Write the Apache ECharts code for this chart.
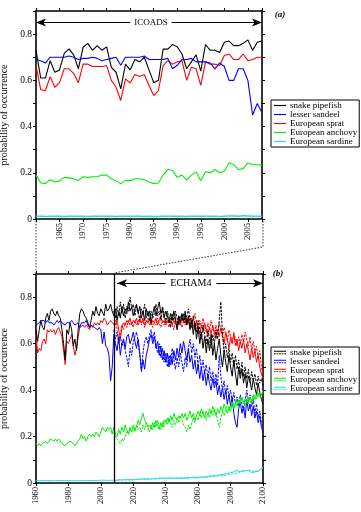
<!DOCTYPE html>
<html><head><meta charset="utf-8">
<script src="https://cdn.jsdelivr.net/npm/echarts@6/dist/echarts.min.js"></script>
<style>html,body{margin:0;padding:0;background:#fff}#c{width:361px;height:512px}</style>
</head><body><div id="c"></div>
<script>
// ---------- DATA ----------
const speciesNames = ['snake pipefish','lesser sandeel','European sprat','European anchovy','European sardine'];
const obsStart = 1960;           // ICOADS panel, annual 1960-2008
const histStart = 1960;          // lower panel, before scenario, annual 1960-2007
const runStart = 2008;           // ECHAM4 scenario, annual 2008-2100
const topXTicks = [1965,1970,1975,1980,1985,1990,1995,2000,2005];
const bottomXTicks = [1960,1980,2000,2020,2040,2060,2080,2100];
const yTickLabels = ['0','0.2','0.4','0.6','0.8'];

const obsPipefish = [0.73,0.61,0.61,0.685,0.635, 0.645,0.717,0.736,0.71,0.65, 0.743,0.76,0.73,0.75,0.73, 0.745,0.656,0.635,0.563,0.67, 0.645,0.69,0.68,0.70,0.645, 0.59,0.60,0.735,0.735,0.755, 0.745,0.714,0.65,0.68,0.71, 0.64,0.755,0.73,0.73,0.72, 0.765,0.77,0.75,0.75,0.76, 0.775,0.73,0.765,0.77];
const obsSandeel = [0.69,0.685,0.675,0.70,0.70, 0.70,0.70,0.705,0.70,0.69, 0.695,0.695,0.70,0.695,0.685, 0.69,0.695,0.70,0.665,0.70, 0.70,0.70,0.70,0.705,0.69, 0.69,0.69,0.69,0.695,0.65, 0.665,0.69,0.69,0.695,0.68, 0.68,0.68,0.675,0.65,0.675, 0.66,0.60,0.60,0.65,0.65, 0.60,0.45,0.50,0.46];
const obsSprat = [0.664,0.56,0.555,0.616,0.57, 0.59,0.65,0.65,0.63,0.59, 0.67,0.67,0.66,0.66,0.66, 0.664,0.60,0.57,0.513,0.606, 0.588,0.625,0.617,0.625,0.578, 0.534,0.556,0.664,0.685,0.67, 0.68,0.685,0.60,0.657,0.65, 0.578,0.68,0.67,0.67,0.664, 0.707,0.714,0.69,0.69,0.714, 0.685,0.69,0.70,0.70];
const obsAnchovy = [0.19,0.157,0.153,0.17,0.16, 0.165,0.18,0.178,0.174,0.167, 0.183,0.18,0.183,0.183,0.19, 0.19,0.174,0.165,0.153,0.167, 0.165,0.174,0.174,0.17,0.16, 0.153,0.156,0.19,0.215,0.21, 0.18,0.19,0.168,0.19,0.204, 0.165,0.204,0.20,0.214,0.20, 0.207,0.243,0.235,0.214,0.218, 0.243,0.235,0.235,0.232];
const obsSardine = [0.012,0.012,0.011,0.012,0.012, 0.012,0.011,0.012,0.012,0.012, 0.012,0.011,0.012,0.012,0.012, 0.012,0.012,0.011,0.012,0.012, 0.012,0.012,0.012,0.011,0.012, 0.011,0.011,0.012,0.012,0.012, 0.012,0.012,0.011,0.012,0.012, 0.012,0.012,0.012,0.012,0.011, 0.012,0.013,0.013,0.012,0.014, 0.013,0.012,0.012,0.012];

const histPipefish = [0.66,0.61,0.66,0.70,0.67, 0.66,0.71,0.73,0.70,0.74, 0.75,0.73,0.72,0.74,0.72, 0.71,0.66,0.60,0.53,0.66, 0.64,0.69,0.66,0.59,0.62, 0.57,0.66,0.73,0.75,0.74, 0.72,0.71,0.69,0.67,0.70, 0.74,0.72,0.76,0.73,0.72, 0.75,0.75,0.72,0.77,0.74, 0.75,0.77,0.74];
const histSandeel = [0.68,0.68,0.69,0.70,0.70, 0.70,0.69,0.70,0.69,0.69, 0.69,0.68,0.69,0.70,0.69, 0.70,0.69,0.69,0.68,0.69, 0.69,0.69,0.70,0.69,0.68, 0.68,0.69,0.67,0.69,0.69, 0.69,0.70,0.68,0.67,0.68, 0.68,0.67,0.67,0.66,0.67, 0.66,0.60,0.65,0.59,0.58, 0.55,0.44,0.50];
const histSprat = [0.64,0.56,0.58,0.57,0.61, 0.62,0.60,0.66,0.65,0.66, 0.65,0.66,0.64,0.66,0.67, 0.65,0.63,0.57,0.51,0.61, 0.60,0.62,0.64,0.59,0.55, 0.58,0.63,0.67,0.67,0.68, 0.67,0.68,0.67,0.66,0.68, 0.67,0.69,0.68,0.69,0.68, 0.70,0.69,0.71,0.70,0.68, 0.69,0.70,0.69];
const histAnchovy = [0.17,0.16,0.17,0.16,0.17, 0.17,0.18,0.17,0.18,0.19, 0.19,0.18,0.19,0.18,0.19, 0.19,0.17,0.17,0.16,0.17, 0.17,0.18,0.18,0.17,0.16, 0.16,0.18,0.19,0.21,0.19, 0.20,0.18,0.20,0.21,0.20, 0.21,0.20,0.22,0.21,0.20, 0.22,0.24,0.23,0.22,0.24, 0.23,0.24,0.21];
const histSardine = [0.010,0.010,0.011,0.010,0.010, 0.011,0.010,0.010,0.010,0.011, 0.010,0.010,0.011,0.010,0.010, 0.010,0.011,0.010,0.010,0.010, 0.011,0.010,0.010,0.011,0.010, 0.010,0.010,0.011,0.010,0.011, 0.011,0.010,0.011,0.011,0.010, 0.011,0.011,0.012,0.011,0.011, 0.012,0.011,0.012,0.012,0.011, 0.012,0.012,0.012];

const runAPipefish = [0.72,0.75,0.70,0.74,0.71,0.76,0.72,0.75,0.73,0.78,0.74,0.76,0.72,
 0.75,0.77,0.73,0.76,0.71,0.74,0.70,0.75,0.72,0.74,
 0.69,0.73,0.76,0.72,0.75,0.78,0.73,0.75,0.71,0.74,
 0.72,0.69,0.73,0.70,0.74,0.71,0.66,0.72,0.69,0.73,
 0.70,0.74,0.68,0.72,0.66,0.70,0.64,0.69,0.62,0.67,
 0.60,0.65,0.58,0.63,0.56,0.62,0.57,0.64,0.55,0.60,
 0.53,0.58,0.62,0.55,0.50,0.57,0.52,0.48,0.55,0.50,
 0.46,0.53,0.47,0.42,0.50,0.45,0.49,0.43,0.47,0.41,
 0.46,0.44,0.40,0.45,0.41,0.38,0.43,0.39,0.36,0.34];
const runBPipefish = [0.74,0.71,0.76,0.72,0.78,0.73,0.77,0.71,0.76,0.74,0.80,0.75,0.77,
 0.72,0.76,0.74,0.70,0.75,0.73,0.77,0.71,0.74,0.70,
 0.74,0.71,0.73,0.77,0.72,0.74,0.70,0.76,0.73,0.69,
 0.74,0.71,0.67,0.73,0.70,0.74,0.71,0.68,0.72,0.70,
 0.73,0.69,0.72,0.75,0.70,0.67,0.72,0.68,0.65,0.70,
 0.66,0.62,0.68,0.64,0.60,0.66,0.62,0.58,0.64,0.60,
 0.66,0.62,0.70,0.78,0.64,0.56,0.60,0.54,0.58,0.52,
 0.56,0.50,0.55,0.49,0.53,0.47,0.52,0.46,0.50,0.45,
 0.49,0.43,0.48,0.44,0.47,0.42,0.46,0.43,0.45,0.42];
const runASprat = [0.69,0.68,0.70,0.66,0.62,0.67,0.69,0.68,0.70,0.69,0.71,0.68,0.70,
 0.69,0.71,0.68,0.70,0.69,0.71,0.68,0.70,0.69,0.71,
 0.68,0.70,0.69,0.71,0.68,0.70,0.72,0.69,0.70,0.68,
 0.70,0.69,0.71,0.68,0.70,0.69,0.67,0.70,0.68,0.71,
 0.69,0.72,0.68,0.70,0.67,0.71,0.68,0.66,0.70,0.67,
 0.64,0.68,0.65,0.69,0.66,0.63,0.67,0.64,0.68,0.65,
 0.62,0.66,0.63,0.67,0.64,0.60,0.65,0.62,0.58,0.63,
 0.60,0.64,0.59,0.62,0.57,0.61,0.58,0.62,0.56,0.60,
 0.57,0.53,0.58,0.54,0.57,0.52,0.55,0.50,0.47,0.45];
const runBSprat = [0.68,0.70,0.66,0.60,0.64,0.68,0.66,0.69,0.67,0.70,0.68,0.69,0.67,
 0.70,0.68,0.69,0.72,0.68,0.70,0.67,0.69,0.71,0.68,
 0.70,0.67,0.69,0.68,0.71,0.69,0.67,0.70,0.68,0.71,
 0.69,0.67,0.70,0.68,0.66,0.70,0.68,0.71,0.69,0.67,
 0.70,0.68,0.71,0.69,0.72,0.68,0.70,0.73,0.69,0.66,
 0.70,0.67,0.71,0.68,0.65,0.69,0.66,0.70,0.67,0.64,
 0.68,0.65,0.69,0.66,0.63,0.67,0.64,0.61,0.66,0.63,
 0.60,0.65,0.62,0.59,0.63,0.60,0.64,0.61,0.65,0.62,
 0.59,0.63,0.57,0.61,0.56,0.59,0.54,0.57,0.50,0.47];
const runASandeel = [0.64,0.60,0.57,0.63,0.55,0.60,0.62,0.58,0.63,0.64,0.60,0.62,0.65,
 0.61,0.58,0.62,0.56,0.48,0.53,0.49,0.55,0.58,0.62,
 0.64,0.60,0.63,0.58,0.61,0.55,0.59,0.53,0.57,0.52,
 0.56,0.50,0.55,0.51,0.57,0.53,0.58,0.54,0.60,0.56,
 0.61,0.57,0.53,0.58,0.52,0.55,0.49,0.53,0.47,0.51,
 0.45,0.50,0.44,0.48,0.42,0.47,0.43,0.40,0.45,0.41,
 0.44,0.38,0.42,0.37,0.41,0.36,0.40,0.34,0.38,0.33,
 0.37,0.30,0.26,0.24,0.32,0.35,0.30,0.33,0.28,0.36,
 0.31,0.34,0.29,0.33,0.28,0.31,0.26,0.29,0.24,0.22];
const runBSandeel = [0.66,0.62,0.65,0.61,0.63,0.59,0.61,0.57,0.54,0.50,0.58,0.55,0.61,
 0.63,0.65,0.61,0.55,0.49,0.56,0.61,0.63,0.60,0.64,
 0.66,0.62,0.65,0.59,0.56,0.60,0.54,0.58,0.52,0.56,
 0.50,0.55,0.51,0.58,0.53,0.49,0.54,0.50,0.56,0.52,
 0.48,0.54,0.50,0.58,0.62,0.56,0.60,0.54,0.58,0.50,
 0.55,0.49,0.53,0.47,0.51,0.45,0.50,0.44,0.48,0.43,
 0.47,0.42,0.55,0.46,0.40,0.44,0.38,0.42,0.37,0.40,
 0.35,0.39,0.34,0.37,0.33,0.38,0.34,0.31,0.36,0.40,
 0.35,0.38,0.33,0.36,0.30,0.34,0.28,0.31,0.26,0.24];
const runAAnchovy = [0.24,0.21,0.20,0.23,0.21,0.24,0.22,0.25,0.23,0.21,0.24,0.22,0.25,
 0.23,0.24,0.27,0.25,0.28,0.30,0.27,0.26,0.24,0.25,
 0.23,0.26,0.24,0.27,0.25,0.23,0.26,0.24,0.27,0.26,
 0.28,0.26,0.29,0.27,0.30,0.28,0.27,0.29,0.28,0.30,
 0.28,0.30,0.27,0.29,0.31,0.28,0.30,0.27,0.29,0.31,
 0.29,0.32,0.30,0.28,0.31,0.29,0.32,0.30,0.33,0.31,
 0.29,0.32,0.30,0.33,0.31,0.34,0.32,0.30,0.33,0.31,
 0.34,0.32,0.35,0.33,0.36,0.34,0.37,0.35,0.33,0.36,
 0.34,0.37,0.35,0.38,0.36,0.38,0.37,0.39,0.38,0.40];
const runBAnchovy = [0.22,0.20,0.19,0.18,0.17,0.19,0.18,0.20,0.22,0.21,0.23,0.22,0.24,
 0.22,0.25,0.23,0.24,0.22,0.25,0.23,0.26,0.24,0.22,
 0.25,0.23,0.26,0.24,0.27,0.25,0.23,0.26,0.24,0.27,
 0.25,0.28,0.26,0.24,0.27,0.25,0.28,0.26,0.29,0.27,
 0.25,0.24,0.22,0.25,0.23,0.26,0.28,0.26,0.29,0.27,
 0.30,0.28,0.31,0.29,0.27,0.30,0.28,0.31,0.29,0.32,
 0.30,0.27,0.24,0.28,0.31,0.29,0.32,0.34,0.31,0.33,
 0.35,0.32,0.34,0.36,0.33,0.35,0.37,0.34,0.36,0.38,
 0.35,0.37,0.34,0.36,0.38,0.36,0.39,0.37,0.38,0.39];
const runASardine = [0.012,0.013,0.012,0.014,0.013,0.012,0.014,0.013,0.015,0.014,0.013,0.015,0.014,
 0.016,0.015,0.017,0.016,0.018,0.017,0.019,0.016,0.018,0.017,
 0.019,0.018,0.020,0.017,0.019,0.021,0.018,0.020,0.019,0.021,
 0.020,0.022,0.019,0.021,0.020,0.022,0.021,0.019,0.022,0.020,
 0.022,0.021,0.023,0.020,0.022,0.024,0.021,0.023,0.025,0.022,
 0.024,0.026,0.023,0.027,0.025,0.029,0.026,0.030,0.027,0.032,
 0.029,0.033,0.030,0.036,0.032,0.038,0.034,0.041,0.036,0.045,
 0.040,0.048,0.043,0.056,0.046,0.042,0.050,0.044,0.052,0.047,
 0.054,0.049,0.045,0.053,0.048,0.056,0.050,0.058,0.062,0.070];
const runBSardine = [0.011,0.012,0.013,0.012,0.014,0.013,0.012,0.014,0.013,0.015,0.014,0.016,0.015,
 0.014,0.016,0.015,0.017,0.016,0.018,0.017,0.019,0.018,0.016,
 0.018,0.020,0.019,0.021,0.018,0.020,0.019,0.022,0.020,0.018,
 0.021,0.019,0.022,0.020,0.023,0.021,0.020,0.023,0.021,0.022,
 0.020,0.023,0.021,0.024,0.022,0.025,0.023,0.021,0.024,0.026,
 0.023,0.025,0.028,0.024,0.027,0.025,0.029,0.027,0.031,0.028,
 0.032,0.030,0.034,0.031,0.036,0.033,0.039,0.035,0.042,0.038,
 0.044,0.040,0.047,0.043,0.050,0.054,0.046,0.051,0.045,0.055,
 0.050,0.056,0.051,0.047,0.055,0.052,0.059,0.054,0.063,0.066];

// ---------- STYLE ----------
const colors = ['#000000','#0000ff','#ff0000','#00ee00','#1fdde6'];
const serif = 'Liberation Serif, Times New Roman, serif';

function pairs(start, arr){ return arr.map((v,i)=>[start+i, v]); }

const obsSets = [obsPipefish, obsSandeel, obsSprat, obsAnchovy, obsSardine];
const histSets = [histPipefish, histSandeel, histSprat, histAnchovy, histSardine];
const runASets = [runAPipefish, runASandeel, runASprat, runAAnchovy, runASardine];
const runBSets = [runBPipefish, runBSandeel, runBSprat, runBAnchovy, runBSardine];

const drawOrder = [2,0,1,3,4];
const series = [];
drawOrder.forEach(k=>{
  series.push({type:'line', name:speciesNames[k], xAxisIndex:0, yAxisIndex:0, showSymbol:false, symbol:'none',
    data:pairs(obsStart, obsSets[k]), lineStyle:{color:colors[k], width:k===4?1.6:1.1}, itemStyle:{color:colors[k]}});
});
drawOrder.forEach(k=>{
  series.push({type:'line', name:speciesNames[k], xAxisIndex:2, yAxisIndex:2, showSymbol:false, symbol:'none',
    data:pairs(runStart, runBSets[k]), lineStyle:{color:colors[k], width:1, type:[2.5,1.2]}, itemStyle:{color:colors[k]}});
  series.push({type:'line', name:speciesNames[k], xAxisIndex:2, yAxisIndex:2, showSymbol:false, symbol:'none',
    data:pairs(histStart, histSets[k]).concat(pairs(runStart, runASets[k])), lineStyle:{color:colors[k], width:1}, itemStyle:{color:colors[k]}});
});
// annotation series (arrows, split line)
series.push({type:'line', xAxisIndex:0, yAxisIndex:0, data:[], silent:true,
  markLine:{silent:true, symbol:['arrow','arrow'], symbolSize:[6,10], label:{show:false},
    lineStyle:{color:'#000', width:1.2, type:'solid'},
    data:[[{coord:[1960,0.85]},{coord:[2008,0.85]}]]}});
series.push({type:'line', xAxisIndex:2, yAxisIndex:2, data:[], silent:true,
  markLine:{silent:true, symbol:['arrow','arrow'], symbolSize:[6,10], label:{show:false},
    lineStyle:{color:'#000', width:1.2, type:'solid'},
    data:[[{coord:[2010,0.86]},{coord:[2100,0.86]}]]}});
series.push({type:'line', xAxisIndex:2, yAxisIndex:2, data:[], silent:true,
  markLine:{silent:true, symbol:['none','none'], label:{show:false},
    lineStyle:{color:'#000', width:1.3, type:'solid'},
    data:[{xAxis:2008}]}});

const yLabelFmt = v => { const t=Math.round(v*10); if (t%2) return ''; return yTickLabels[t/2] || ''; };
function yAx(grid, left){
  return {type:'value', gridIndex:grid, min:0, max:0.9, interval:0.1, position:left?'left':'right',
    axisLine:{show:true, onZero:false, lineStyle:{color:'#000', width:1.6}},
    axisTick:{show:true, length:3, lineStyle:{color:'#000', width:1}},
    axisLabel:{show:left, formatter:yLabelFmt, margin:4, color:'#000', fontFamily:serif, fontSize:9.5},
    splitLine:{show:false},
    name:left?'probability of occurrence':'', nameLocation:'middle', nameGap:21, nameRotate:90,
    nameTextStyle:{fontFamily:serif, fontSize:10, color:'#000'}};
}
function xAx(grid, bottom, mn, mx, step, ticks){
  return {type:'value', gridIndex:grid, min:mn, max:mx, interval:step, position:bottom?'bottom':'top',
    axisLine:{show:true, onZero:false, lineStyle:{color:'#000', width:1.6}},
    axisTick:{show:true, length:3, lineStyle:{color:'#000', width:1}},
    axisLabel:{show:bottom, rotate:90, margin:4, color:'#000', fontFamily:serif, fontSize:8.5,
      showMinLabel:true, showMaxLabel:true,
      formatter: v => ticks.indexOf(v)>=0 ? String(v) : ''},
    splitLine:{show:false}};
}

const singleIcon = 'path://M0,0H14V1.3H0Z';
const doubleIcon = 'path://M0,0H14V1.2H0Z M0,3H2V4.2H0Z M3,3H5V4.2H3Z M6,3H8V4.2H6Z M9,3H11V4.2H9Z M12,3H14V4.2H12Z';
function legend(top, icon){
  return {orient:'vertical', left:271, top:top, selectedMode:false, itemWidth:12, itemHeight:8, itemGap:0,
    padding:[1,2,1,3], borderColor:'#000', borderWidth:1, backgroundColor:'#fff', symbolKeepAspect:true,
    itemStyle:{borderWidth:0},
    textStyle:{fontFamily:serif, fontSize:9, color:'#000', lineHeight:9, padding:[0,0,0,-1]},
    data:speciesNames.map(n=>({name:n, icon:icon}))};
}

const chart = echarts.init(document.getElementById('c'), null, {renderer:'canvas'});
chart.setOption({
  animation:false,
  backgroundColor:'#fff',
  grid:[{left:36, top:11, width:226, height:208, outerBoundsMode:'none'},
        {left:36, top:274, width:227, height:209, outerBoundsMode:'none'}],
  xAxis:[xAx(0,true,1960,2008,5,topXTicks), xAx(0,false,1960,2008,5,topXTicks),
         xAx(1,true,1960,2100,20,bottomXTicks), xAx(1,false,1960,2100,20,bottomXTicks)],
  yAxis:[yAx(0,true), yAx(0,false), yAx(1,true), yAx(1,false)],
  legend:[legend(100, singleIcon), legend(347, doubleIcon)],
  series:series
});

// annotations positioned through the axes
const pTopL = chart.convertToPixel({seriesIndex:0}, [1960, 0]);
const pTopR = chart.convertToPixel({seriesIndex:0}, [2008, 0]);
const pIco = chart.convertToPixel({seriesIndex:0}, [1984.4, 0.85]);
const pBotL = chart.convertToPixel({seriesIndex:5}, [1960, 0.9]);
const pBotS = chart.convertToPixel({seriesIndex:5}, [2008, 0.9]);
const pEch = chart.convertToPixel({seriesIndex:5}, [2055.5, 0.86]);
const pTopA = chart.convertToPixel({seriesIndex:0}, [2008, 0.9]);
const pBotA = chart.convertToPixel({seriesIndex:5}, [2100, 0.9]);
const dotted = {stroke:'#000', lineWidth:0.8, lineDash:[1.5,1.5], fill:null};
chart.setOption({graphic:[
  {type:'polyline', silent:true, shape:{points:[[pTopL[0],pTopL[1]+2],[pBotL[0],pBotL[1]-1]]}, style:dotted},
  {type:'polyline', silent:true, shape:{points:[[pTopR[0]+1,pTopR[1]+2],[pTopR[0]+1,pTopR[1]+28],[pBotS[0],pBotS[1]-1]]}, style:dotted},
  {type:'text', silent:true, x:pIco[0], y:pIco[1], z:100, style:{text:'ICOADS', fill:'#000', font:'9px '+serif, align:'center', verticalAlign:'middle', backgroundColor:'#fff', padding:[1,4]}},
  {type:'text', silent:true, x:pEch[0], y:pEch[1], z:100, style:{text:'ECHAM4', fill:'#000', font:'10px '+serif, align:'center', verticalAlign:'middle', backgroundColor:'#fff', padding:[1,5]}},
  {type:'text', silent:true, x:pTopA[0]+18, y:pTopA[1]+4, style:{text:'(a)', fill:'#000', font:'italic bold 9px '+serif, align:'center', verticalAlign:'middle'}},
  {type:'text', silent:true, x:pBotA[0]+15, y:pBotA[1], style:{text:'(b)', fill:'#000', font:'italic bold 9px '+serif, align:'center', verticalAlign:'middle'}}
]});
</script></body></html>
